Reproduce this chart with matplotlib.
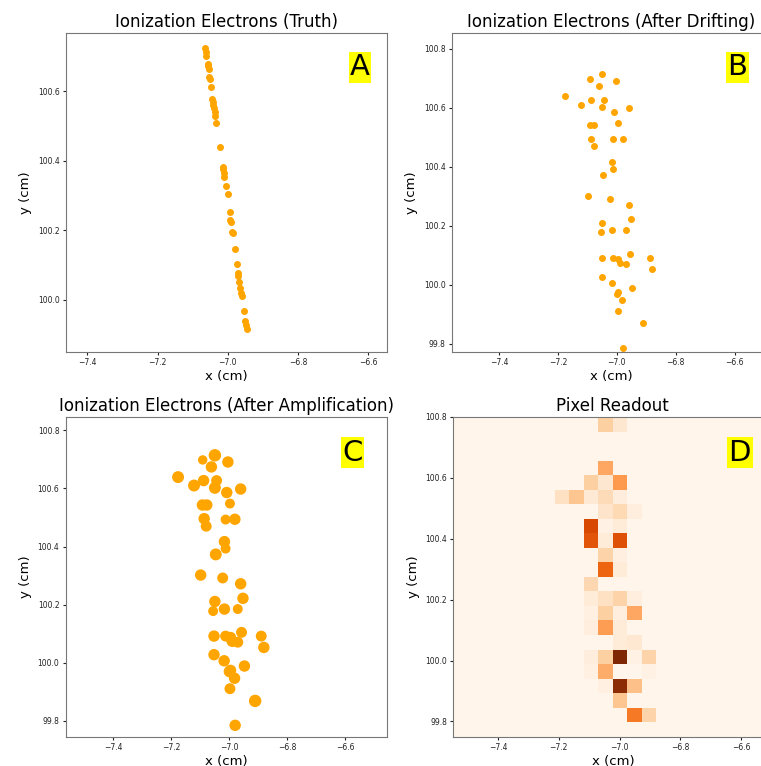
import numpy as np
import matplotlib
matplotlib.use("Agg")
import matplotlib.pyplot as plt

# --- truth electrons (panel A)
truth_x = [-7.065, -7.063, -7.062, -7.058, -7.057, -7.055, -7.053, -7.050, -7.048, -7.044,
           -7.042, -7.041, -7.039, -7.038, -7.036, -7.033, -7.022, -7.015, -7.014, -7.012,
           -7.011, -7.006, -7.001, -6.995, -6.993, -6.992, -6.987, -6.986, -6.979, -6.974,
           -6.972, -6.970, -6.967, -6.965, -6.963, -6.961, -6.955, -6.950, -6.948, -6.946]
truth_y = [100.724, 100.714, 100.703, 100.680, 100.674, 100.664, 100.642, 100.635, 100.613, 100.577,
           100.570, 100.561, 100.551, 100.542, 100.529, 100.510, 100.439, 100.383, 100.376, 100.366,
           100.353, 100.329, 100.304, 100.252, 100.230, 100.223, 100.195, 100.192, 100.147, 100.103,
           100.077, 100.069, 100.051, 100.034, 100.019, 100.010, 99.969, 99.938, 99.928, 99.916]

# --- drifted electrons (panels B and C)
drift_x = [-7.049, -7.091, -7.004, -7.061, -7.176, -7.088, -7.043, -7.121, -7.049, -6.960,
           -7.008, -6.997, -7.092, -7.077, -7.086, -7.012, -6.980, -7.079, -7.016, -7.012,
           -7.046, -7.098, -7.022, -6.960, -6.952, -7.049, -7.016, -6.970, -7.055, -6.957,
           -7.052, -7.012, -6.995, -6.889, -6.989, -6.970, -6.880, -7.052, -7.017, -6.947,
           -6.999, -6.995, -6.981, -6.997, -6.910, -6.979]
drift_y = [100.714, 100.698, 100.691, 100.674, 100.639, 100.627, 100.627, 100.610, 100.602, 100.598,
           100.586, 100.548, 100.543, 100.543, 100.496, 100.493, 100.494, 100.470, 100.417, 100.393,
           100.373, 100.302, 100.292, 100.272, 100.222, 100.211, 100.185, 100.185, 100.178, 100.105,
           100.092, 100.092, 100.087, 100.092, 100.074, 100.071, 100.053, 100.028, 100.007, 99.989,
           99.970, 99.974, 99.947, 99.911, 99.869, 99.785]
# relative blob size after amplification
gain = [1.10, 0.80, 1.00, 1.00, 1.05, 1.00, 0.95, 1.05, 1.05, 1.00,
        1.00, 0.85, 1.00, 1.00, 1.00, 0.85, 1.00, 0.95, 1.00, 0.85,
        1.05, 1.00, 0.95, 1.00, 1.00, 1.00, 1.00, 0.85, 0.85, 0.95,
        1.00, 0.95, 1.00, 0.95, 1.00, 0.95, 1.00, 1.00, 1.00, 1.00,
        1.00, 1.00, 1.00, 0.95, 1.10, 1.00]

# --- pixel readout (panel D): row counted from the top, column from the left
pix_row = [0, 0, 3, 4, 4, 4, 5, 5, 5, 5, 5, 6, 6, 6, 7, 7, 7, 8, 8, 8,
           9, 9, 10, 10, 11, 12, 12, 12, 12, 13, 13, 13, 13, 14, 14, 14,
           15, 15, 16, 16, 16, 16, 16, 17, 17, 17, 18, 18, 18, 19, 20, 20]
pix_col = [10, 11, 10, 9, 10, 11, 7, 8, 9, 10, 11, 10, 11, 12, 9, 10, 11, 9, 10, 11,
           10, 11, 10, 11, 9, 9, 10, 11, 12, 9, 10, 11, 12, 9, 10, 11,
           11, 12, 9, 10, 11, 12, 13, 9, 10, 13, 10, 11, 12, 11, 12, 13]
pix_val = [0.25, 0.12, 0.40, 0.25, 0.12, 0.45, 0.16, 0.29, 0.10, 0.19, 0.07, 0.14, 0.20, 0.06,
           0.75, 0.03, 0.08, 0.70, 0.08, 0.72,
           0.23, 0.05, 0.64, 0.08, 0.21, 0.08, 0.16, 0.23, 0.06, 0.04, 0.25, 0.06, 0.40,
           0.06, 0.44, 0.08, 0.08, 0.11, 0.07, 0.25, 1.00, 0.03, 0.23, 0.04, 0.38, 0.03,
           0.04, 0.96, 0.31, 0.29, 0.57, 0.23]
pix_x0, pix_y0, pix_pitch, n_pix = -7.547, 99.75, 0.0477, 22

fig = plt.figure(figsize=(7.61, 7.66), dpi=100)

axA = fig.add_axes([0.0867, 0.5405, 0.4218, 0.4164])
axB = fig.add_axes([0.594, 0.5405, 0.4192, 0.4164])
axC = fig.add_axes([0.0863, 0.0383, 0.4222, 0.4174])
axD = fig.add_axes([0.5957, 0.0383, 0.4192, 0.4174])

axA.scatter(truth_x, truth_y, s=16, c="orange")
axB.scatter(drift_x, drift_y, s=16, c="orange")
axC.scatter(drift_x, drift_y, s=np.array(gain)**2 * 52, c="orange")

grid = np.zeros((n_pix, n_pix))
for r, c, v in zip(pix_row, pix_col, pix_val):
    grid[n_pix - 1 - r, c] = v
xe = pix_x0 + pix_pitch * np.arange(n_pix + 1)
ye = pix_y0 + pix_pitch * np.arange(n_pix + 1)
axD.pcolormesh(xe, ye, grid, cmap="Oranges", vmin=0, vmax=1)

axA.set_xlim(-7.461, -6.547); axA.set_ylim(99.85, 100.768)
axB.set_xlim(-7.559, -6.477); axB.set_ylim(99.772, 100.854)
axC.set_xlim(-7.564, -6.455); axC.set_ylim(99.746, 100.846)
axD.set_xlim(-7.547, -6.497); axD.set_ylim(99.75, 100.8)

titles = ["Ionization Electrons (Truth)", "Ionization Electrons (After Drifting)",
          "Ionization Electrons (After Amplification)", "Pixel Readout"]
letters = ["A", "B", "C", "D"]
letter_pos = [(0.916, 0.893), (0.895, 0.893), (0.893, 0.888), (0.898, 0.888)]
for ax, t, l, p in zip([axA, axB, axC, axD], titles, letters, letter_pos):
    ax.set_title(t, fontsize=12, pad=4)
    ax.set_xlabel("x (cm)", fontsize=9.5, labelpad=2)
    ax.set_ylabel("y (cm)", fontsize=9.5, labelpad=4)
    ax.set_xticks([-7.4, -7.2, -7.0, -6.8, -6.6])
    ax.tick_params(labelsize=5.5, length=2.5, width=0.8, pad=2, colors="#222222")
    for sp in ax.spines.values():
        sp.set_color("#777777")
    ax.text(p[0], p[1], l, transform=ax.transAxes, fontsize=21, ha="center", va="center",
            bbox=dict(boxstyle="square,pad=0.05", fc="yellow", ec="none"))

axA.set_yticks([100.0, 100.2, 100.4, 100.6])
for ax in [axB, axC, axD]:
    ax.set_yticks([99.8, 100.0, 100.2, 100.4, 100.6, 100.8])

fig.savefig("out.png", dpi=100)
